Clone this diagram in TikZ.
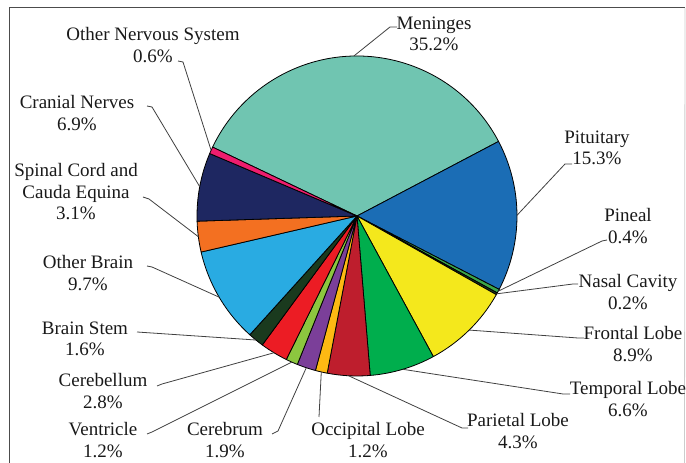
\documentclass[tikz,border=0pt]{standalone}
\usepackage{fontspec}
\setmainfont{Liberation Serif}
\begin{document}
\begin{tikzpicture}[x=1pt,y=1pt,
  lbl/.style={align=center,font=\fontsize{19}{21.5}\selectfont,text=black!90,inner sep=0pt},
  leader/.style={draw=black!75,line width=0.8pt},
  slice/.style={draw=black,line width=0.8pt,line join=round}]
\useasboundingbox (0,0) rectangle (686,463);
\definecolor{cMen}{HTML}{70C5B1}
\definecolor{cPit}{HTML}{1B6DB5}
\definecolor{cPin}{HTML}{3DA648}
\definecolor{cNas}{HTML}{1D3B1F}
\definecolor{cFro}{HTML}{F4E81C}
\definecolor{cTem}{HTML}{00AE4D}
\definecolor{cPar}{HTML}{BE1E2D}
\definecolor{cOcc}{HTML}{FDB913}
\definecolor{cCer}{HTML}{7B3F99}
\definecolor{cVen}{HTML}{8CC63F}
\definecolor{cCbl}{HTML}{EC1C24}
\definecolor{cBst}{HTML}{1A3A1E}
\definecolor{cObr}{HTML}{29ABE2}
\definecolor{cSpi}{HTML}{F37021}
\definecolor{cCra}{HTML}{1E2761}
\definecolor{cOns}{HTML}{EE1D6E}
% frame
\coordinate (f1) at (9,0);
\coordinate (f2) at (9,455);
\coordinate (f3) at (685,455);
\coordinate (f4) at (684.5,0);
\draw[black!70,line width=1pt] (f1) -- (f2) -- (f3);
\draw[black!20,line width=0.8pt] (f3) -- (f4);
% pie
\coordinate (c) at (357,247);
\foreach \a/\b/\col in {27.78/154.5/cMen,-27.3/27.78/cPit,-28.74/-27.3/cPin,-29.46/-28.74/cNas,
  -61.5/-29.46/cFro,-85.26/-61.5/cTem,-100.74/-85.26/cPar,-105.06/-100.74/cOcc,
  -111.9/-105.06/cCer,-116.22/-111.9/cVen,-126.3/-116.22/cCbl,-132.06/-126.3/cBst,
  -166.98/-132.06/cObr,-178.14/-166.98/cSpi,-202.98/-178.14/cCra,-205.5/-202.98/cOns}
  {\draw[slice,fill=\col] (c) -- ++(\a:160) arc[start angle=\a,end angle=\b,radius=160] -- cycle;}
% rim points
\foreach \n/\m in {Men/91.14,Pit/0.24,Pin/-28.02,Nas/-29.1,Fro/-45.48,Tem/-73.38,Par/-93,
  Occ/-102.9,Cer/-108.48,Ven/-114.06,Cbl/-121.26,Bst/-129.18,Obr/-149.52,Spi/-172.56,
  Cra/-190.56,Ons/-204.24}
  {\path (c) ++(\m:160) coordinate (r\n);}
% labels
\node[lbl] (lMen) at (434,429) {Meninges\\35.2\%};
\node[lbl] (lPit) at (597,315) {Pituitary\\15.3\%};
\node[lbl] (lPin) at (628,237) {Pineal\\0.4\%};
\node[lbl] (lNas) at (628,171) {Nasal Cavity\\0.2\%};
\node[lbl] (lFro) at (633,119) {Frontal Lobe\\8.9\%};
\node[lbl] (lTem) at (628,64) {Temporal Lobe\\6.6\%};
\node[lbl] (lPar) at (518,32) {Parietal Lobe\\4.3\%};
\node[lbl] (lOcc) at (368,23) {Occipital Lobe\\1.2\%};
\node[lbl] (lCer) at (225,23) {Cerebrum\\1.9\%};
\node[lbl] (lVen) at (103,23) {Ventricle\\1.2\%};
\node[lbl] (lCbl) at (103,72) {Cerebellum\\2.8\%};
\node[lbl] (lBst) at (85,124) {Brain Stem\\1.6\%};
\node[lbl] (lObr) at (88,190) {Other Brain\\9.7\%};
\node[lbl] (lSpi) at (76,271) {Spinal Cord and\\Cauda Equina\\3.1\%};
\node[lbl] (lCra) at (77,350) {Cranial Nerves\\6.9\%};
\node[lbl] (lOns) at (153,418) {Other Nervous System\\0.6\%};
% leader elbows and ends
\coordinate (eMen) at (390,436); \coordinate (tMen) at (397,436);
\coordinate (ePit) at (565,299); \coordinate (tPit) at (572,299);
\coordinate (ePin) at (602,222); \coordinate (tPin) at (607,223);
\coordinate (eNas) at (573,179); \coordinate (tNas) at (578,179);
\coordinate (eFro) at (578,125); \coordinate (tFro) at (584,125);
\coordinate (eTem) at (563,69);  \coordinate (tTem) at (570,69);
\coordinate (ePar) at (462,35);  \coordinate (tPar) at (468,35);
\coordinate (tOcc) at (319,46);
\coordinate (eCer) at (278,32);  \coordinate (tCer) at (272,29);
\coordinate (eVen) at (152,31);  \coordinate (tVen) at (147,29);
\coordinate (eCbl) at (162,79);  \coordinate (tCbl) at (157,77);
\coordinate (tBst) at (137,131);
\coordinate (eObr) at (152,196); \coordinate (tObr) at (147,197);
\coordinate (eSpi) at (149,264); \coordinate (tSpi) at (143,266);
\coordinate (eCra) at (152,356); \coordinate (tCra) at (147,357);
\coordinate (eOns) at (183,401); \coordinate (tOns) at (178,402);
\foreach \n in {Men,Pit,Pin,Nas,Fro,Tem,Par,Cer,Ven,Cbl,Obr,Spi,Cra,Ons}
  {\draw[leader] (r\n) -- (e\n) -- (t\n);}
\draw[leader] (rOcc) -- (tOcc);
\draw[leader] (rBst) -- (tBst);
\end{tikzpicture}
\end{document}
